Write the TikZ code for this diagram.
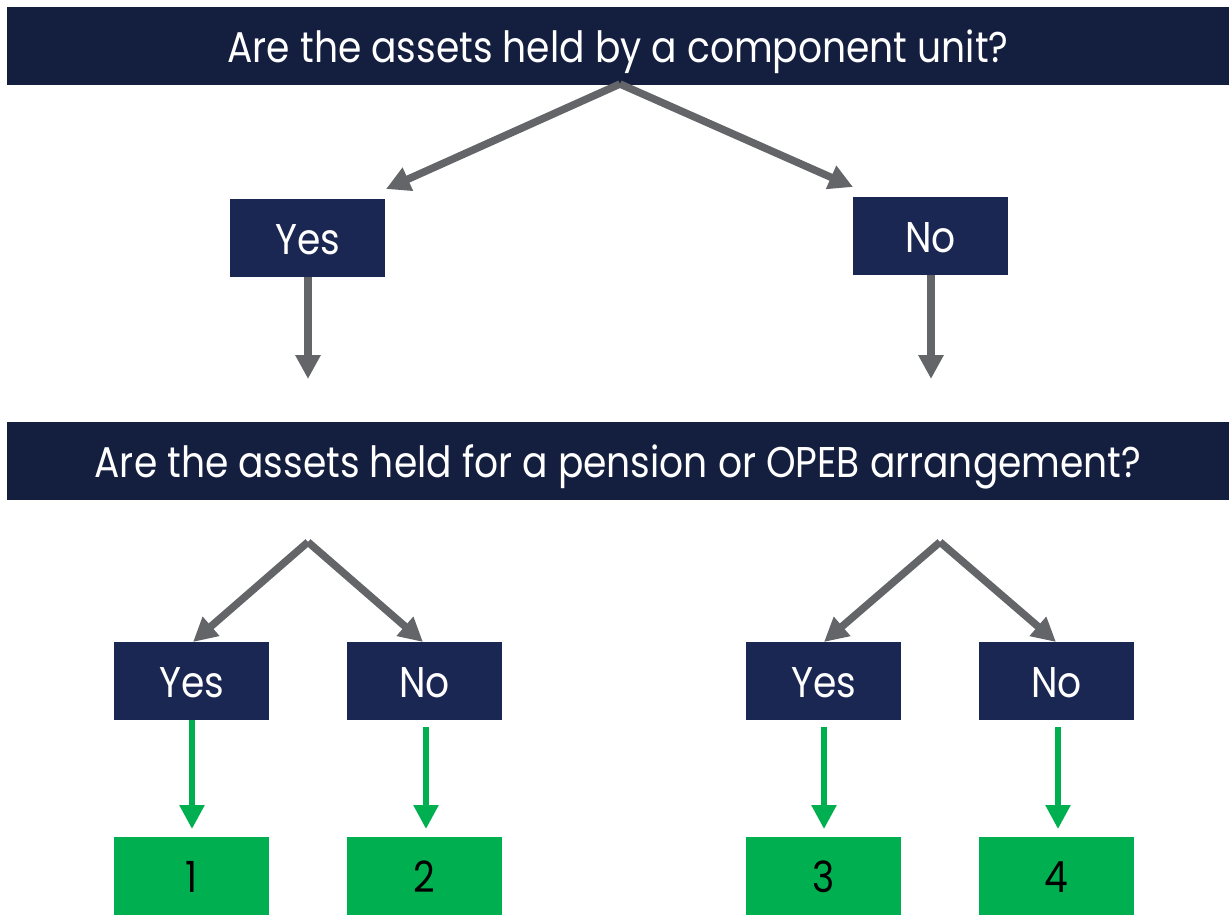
\documentclass[tikz,border=0pt]{standalone}
\usepackage{fontspec}
\setmainfont{Poppins}[FakeStretch=0.875]
\usetikzlibrary{arrows.meta}
\definecolor{banner}{HTML}{141E3F}
\definecolor{boxnavy}{HTML}{1B2753}
\definecolor{linegray}{HTML}{646569}
\definecolor{okgreen}{HTML}{00B050}
\tikzset{
  basebox/.style={inner sep=0pt, outer sep=0pt, anchor=north west,
    minimum height=78pt, text height=33pt, text depth=0pt,
    font=\fontsize{43}{50}\selectfont},
  bannerbox/.style={basebox, fill=banner, text=white, minimum width=1222pt},
  answerbox/.style={basebox, fill=boxnavy, text=white, minimum width=155pt},
  resultbox/.style={basebox, fill=okgreen, text=black, minimum width=155pt},
  grayarrow/.style={draw=linegray, line width=7.5pt,
    -{Triangle[length=24pt, width=24pt]}},
  greenarrow/.style={draw=okgreen, line width=5.5pt,
    -{Triangle[length=24pt, width=24pt]}},
}
\begin{document}
\begin{tikzpicture}[x=1pt, y=-1pt]
  \useasboundingbox (0,0) rectangle (1229,923);

  % questions
  \node[bannerbox] (q1) at (7,7) {Are the assets held by a component unit?};
  \node[bannerbox] (q2) at (7,422) {Are the assets held for a pension or OPEB arrangement?};

  % first level answers
  \node[answerbox] (yes1) at (230,199) {Yes};
  \node[answerbox] (no1) at (853,197) {No};

  % second level answers
  \node[answerbox] (yesA) at (114,642) {Yes};
  \node[answerbox] (noA) at (347,642) {No};
  \node[answerbox] (yesB) at (746,642) {Yes};
  \node[answerbox] (noB) at (979,642) {No};

  % outcomes
  \node[resultbox] (r1) at (114,837) {1};
  \node[resultbox] (r2) at (347,837) {2};
  \node[resultbox] (r3) at (746,837) {3};
  \node[resultbox] (r4) at (979,837) {4};

  % connector end points
  \coordinate (top) at (620,84);
  \coordinate (yes1tip) at (386,189);
  \coordinate (no1tip) at (853,187);
  \coordinate (yes1end) at (308,379);
  \coordinate (no1end) at (931,379);
  \coordinate (forkA) at (308,542);
  \coordinate (forkB) at (940,542);
  \coordinate (yesAtip) at (193,642);
  \coordinate (noAtip) at (423,642);
  \coordinate (yesBtip) at (824,642);
  \coordinate (noBtip) at (1056,642);
  \coordinate (r1start) at (192,720);
  \coordinate (r1tip) at (192,829);
  \coordinate (r2start) at (426,727);
  \coordinate (r2tip) at (426,829);
  \coordinate (r3start) at (824,727);
  \coordinate (r3tip) at (824,829);
  \coordinate (r4start) at (1058,727);
  \coordinate (r4tip) at (1058,829);

  % gray decision arrows
  \draw[grayarrow] (top) -- (yes1tip);
  \draw[grayarrow] (top) -- (no1tip);
  \draw[grayarrow] (yes1.south -| yes1end) -- (yes1end);
  \draw[grayarrow] (no1.south -| no1end) -- (no1end);
  \draw[grayarrow] (forkA) -- (yesAtip);
  \draw[grayarrow] (forkA) -- (noAtip);
  \draw[grayarrow] (forkB) -- (yesBtip);
  \draw[grayarrow] (forkB) -- (noBtip);

  % green outcome arrows
  \draw[greenarrow] (r1start) -- (r1tip);
  \draw[greenarrow] (r2start) -- (r2tip);
  \draw[greenarrow] (r3start) -- (r3tip);
  \draw[greenarrow] (r4start) -- (r4tip);
\end{tikzpicture}
\end{document}
